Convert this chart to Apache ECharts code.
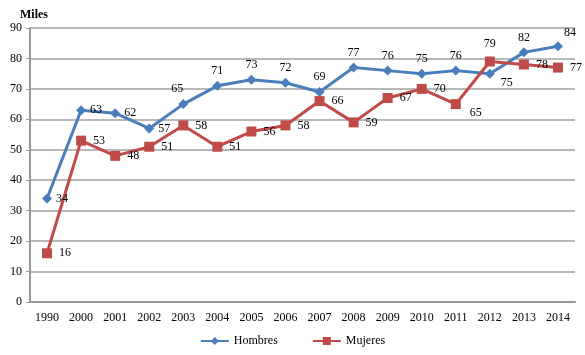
<!DOCTYPE html>
<html>
<head>
<meta charset="utf-8">
<script src="https://cdn.jsdelivr.net/npm/echarts@6/dist/echarts.min.js"></script>
<style>
  html, body { margin: 0; padding: 0; background: #fff; }
  #chart { width: 585px; height: 355px; }
</style>
</head>
<body>
<div id="chart"></div>
<script>
// years on the x axis
const years = ['1990', '2000', '2001', '2002', '2003', '2004', '2005', '2006',
  '2007', '2008', '2009', '2010', '2011', '2012', '2013', '2014'];
// thousands (miles)
const hombres = [34, 63, 62, 57, 65, 71, 73, 72, 69, 77, 76, 75, 76, 75, 82, 84];
const mujeres = [16, 53, 48, 51, 58, 51, 56, 58, 66, 59, 67, 70, 65, 79, 78, 77];

// label placement per point
const hombresPos = ['right', 'right', 'right', 'right', 'topLeft', 'top', 'top', 'top',
  'top', 'top', 'top', 'top', 'top', 'bottomRight', 'top', 'topRight'];
const mujeresPos = ['right', 'right', 'right', 'right', 'right', 'right', 'right', 'right',
  'right', 'right', 'right', 'right', 'bottomRight', 'top', 'right', 'right'];

const FONT = '"Liberation Serif", serif';
const BLUE = '#4a7ebb';
const RED = '#be4b48';

function withLabels(values, positions) {
  return values.map((v, i) => {
    const pos = positions[i];
    const lbl = {};
    if (pos === 'bottomRight') { lbl.position = 'right'; lbl.offset = [2, 9]; }
    else if (pos === 'topRight') { lbl.position = 'top'; lbl.offset = [12, 2]; }
    else if (pos === 'topLeft') { lbl.position = 'top'; lbl.offset = [-6, 0]; }
    else lbl.position = pos;
    return { value: v, label: lbl };
  });
}

const myChart = echarts.init(document.getElementById('chart'));
myChart.setOption({
  animation: false,
  textStyle: { fontFamily: FONT },
  title: {
    text: 'Miles',
    left: 15,
    top: 4,
    textStyle: { fontFamily: FONT, fontSize: 12, fontWeight: 'bold', color: '#000' }
  },
  grid: { left: 30, right: 10, top: 28, bottom: 53 },
  legend: {
    bottom: 3,
    left: 'center',
    itemGap: 34,
    itemWidth: 28,
    itemHeight: 10,
    textStyle: { fontFamily: FONT, fontSize: 12, color: '#000' },
    data: ['Hombres', 'Mujeres']
  },
  xAxis: {
    type: 'category',
    data: years,
    axisLine: { lineStyle: { color: '#999', width: 2 } },
    axisTick: { show: false },
    axisLabel: { color: '#000', fontSize: 12, fontFamily: FONT, margin: 10 }
  },
  yAxis: {
    type: 'value',
    min: 0,
    max: 90,
    interval: 10,
    axisLine: { show: true, lineStyle: { color: '#999', width: 2 } },
    axisTick: { show: true, length: 4, lineStyle: { color: '#999' } },
    axisLabel: { color: '#000', fontSize: 12, fontFamily: FONT, margin: 8 },
    splitLine: { lineStyle: { color: '#a0a0a0', width: 1.5 } }
  },
  series: [
    {
      name: 'Hombres',
      type: 'line',
      data: withLabels(hombres, hombresPos),
      symbol: 'diamond',
      symbolSize: 10,
      color: BLUE,
      lineStyle: { width: 3, color: BLUE },
      itemStyle: { color: BLUE },
      label: { show: true, color: '#000', fontSize: 12, fontFamily: FONT, distance: 4 }
    },
    {
      name: 'Mujeres',
      type: 'line',
      data: withLabels(mujeres, mujeresPos),
      symbol: 'rect',
      symbolSize: 10,
      color: RED,
      lineStyle: { width: 3, color: RED },
      itemStyle: { color: RED },
      label: { show: true, color: '#000', fontSize: 12, fontFamily: FONT, distance: 7 }
    }
  ]
});
</script>
</body>
</html>
